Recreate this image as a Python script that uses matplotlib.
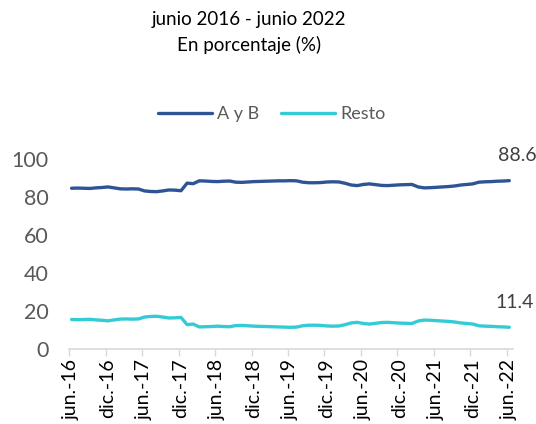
import numpy as np
import matplotlib
matplotlib.use('Agg')
import matplotlib.pyplot as plt

plt.rcParams['font.family'] = ['Lato', 'DejaVu Sans']

# datos mensuales jun.-16 .. jun.-22 (73 meses)
ayb = [84.6, 84.7, 84.6, 84.5, 84.8, 85.0,
       85.3, 84.8, 84.3, 84.2, 84.3, 84.2,
       83.2, 82.9, 82.8, 83.2, 83.7, 83.6, 83.3,
       87.3, 87.0, 88.5, 88.4, 88.2, 88.1, 88.3, 88.4, 87.8, 87.7, 87.9,
       88.1, 88.2, 88.3, 88.4, 88.5, 88.5, 88.6, 88.5,
       87.8, 87.5, 87.5, 87.6, 87.9, 88.0, 87.9, 87.2, 86.3, 86.0,
       86.6, 86.9, 86.5, 86.1, 86.0, 86.2, 86.4, 86.5, 86.6, 85.3,
       84.8, 84.9, 85.1, 85.3, 85.5, 85.8, 86.3, 86.6, 86.9, 87.8,
       88.0, 88.1, 88.3, 88.4, 88.6]
resto = [15.5, 15.4, 15.5, 15.6, 15.3, 15.1,
         14.8, 15.3, 15.7, 15.8, 15.7, 15.8,
         16.8, 17.1, 17.2, 16.8, 16.3, 16.4, 16.6,
         12.8, 13.1, 11.6, 11.7, 11.8, 12.0, 11.8, 11.7, 12.3, 12.4, 12.2,
         12.0, 11.9, 11.8, 11.7, 11.6, 11.5, 11.4, 11.5,
         12.2, 12.5, 12.5, 12.4, 12.1, 12.0, 12.1, 12.8, 13.7, 14.0,
         13.4, 13.1, 13.5, 13.9, 14.0, 13.8, 13.6, 13.5, 13.4, 14.7,
         15.2, 15.1, 14.9, 14.7, 14.5, 14.2, 13.7, 13.4, 13.1, 12.2,
         12.0, 11.9, 11.7, 11.6, 11.4]
tick_labels = ['jun.-16', 'dic.-16', 'jun.-17', 'dic.-17', 'jun.-18', 'dic.-18',
               'jun.-19', 'dic.-19', 'jun.-20', 'dic.-20', 'jun.-21', 'dic.-21',
               'jun.-22']

x = np.arange(len(ayb))
gray = '#595959'

fig = plt.figure(figsize=(5.36, 4.24), dpi=100)
ax = fig.add_axes([0.129, 0.177, 0.828, 0.448])

ax.plot(x, ayb, color='#2F5496', lw=2.4, label='A y B', solid_capstyle='round')
ax.plot(x, resto, color='#33CCD6', lw=2.4, label='Resto', solid_capstyle='round')

ax.set_xlim(-0.4, 72.6)
ax.set_ylim(0, 100)
ax.set_yticks(range(0, 101, 20))
ax.tick_params(axis='y', length=0, labelsize=15.5, labelcolor=gray, pad=15)

ax.set_xticks(x[::6])
ax.set_xticklabels(tick_labels, rotation=90, fontsize=14, color='black')
ax.tick_params(axis='x', length=0, pad=7)
ax.set_xticks(x[::6] - 0.4, minor=True)
ax.tick_params(axis='x', which='minor', length=5, color='#D9D9D9', width=1)

for s in ['top', 'right', 'left']:
    ax.spines[s].set_visible(False)
ax.spines['bottom'].set_color('#D9D9D9')
ax.spines['bottom'].set_linewidth(1.2)

ax.annotate(f'{ayb[-1]:.1f}', (x[-1], ayb[-1]), xytext=(6, 18), textcoords='offset points',
            ha='center', va='center', fontsize=14, color='#404040', annotation_clip=False)
ax.annotate(f'{resto[-1]:.1f}', (x[-1], resto[-1]), xytext=(4, 18), textcoords='offset points',
            ha='center', va='center', fontsize=14, color='#404040', annotation_clip=False)

fig.text(0.465, 0.953, 'junio 2016 - junio 2022', ha='center', va='center', fontsize=13.5)
fig.text(0.465, 0.893, 'En porcentaje (%)', ha='center', va='center', fontsize=13.5)

leg = fig.legend(loc='center', bbox_to_anchor=(0.507, 0.731), ncol=2, frameon=False,
                 fontsize=13, handlelength=3.0, handletextpad=0.3, columnspacing=1.2)
for t in leg.get_texts():
    t.set_color(gray)

fig.savefig('out.png', dpi=100)
